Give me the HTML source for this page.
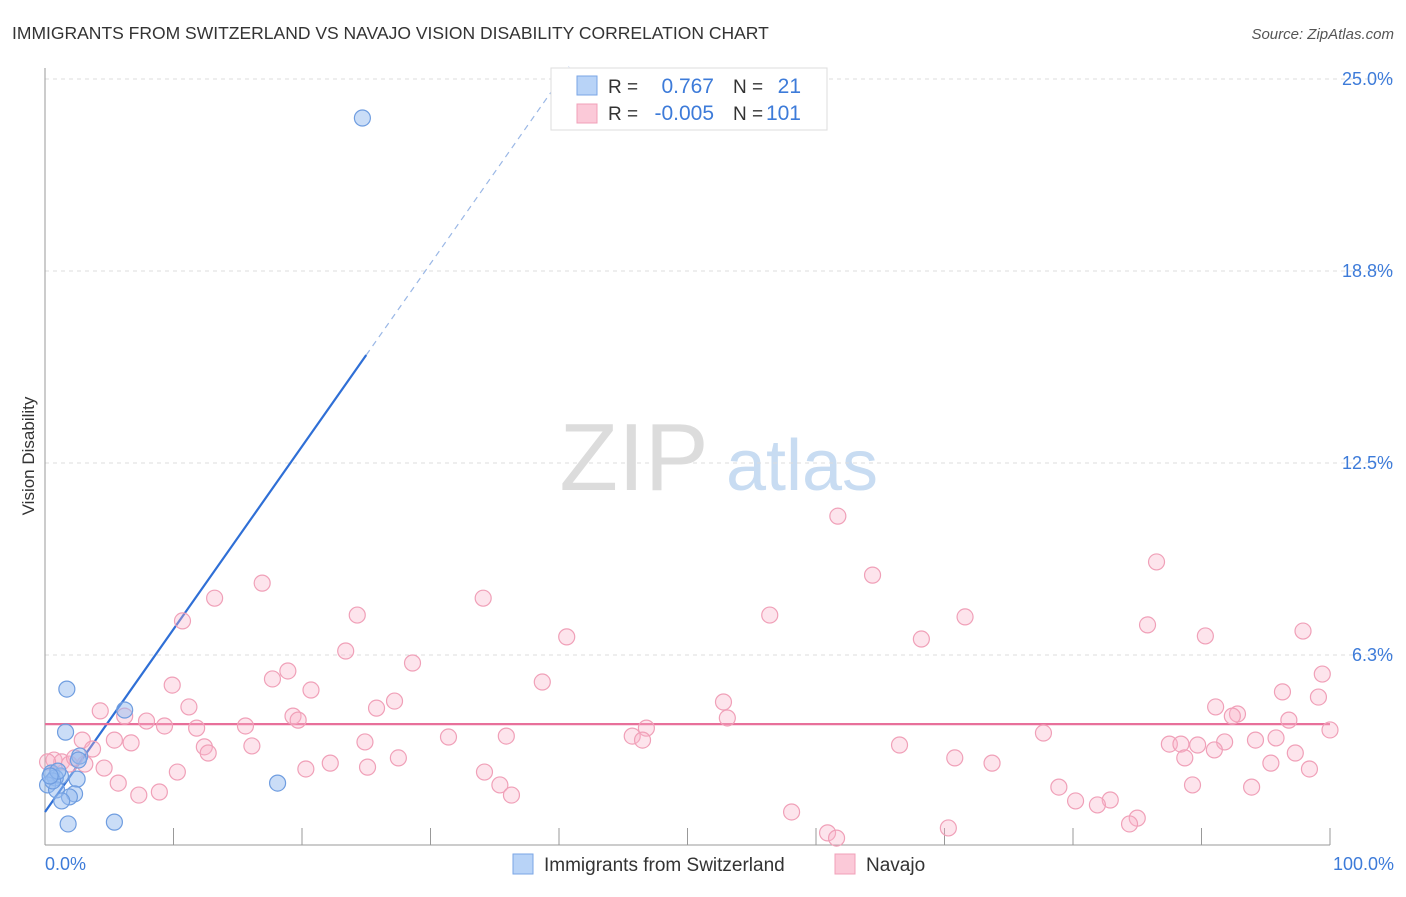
<!DOCTYPE html>
<html><head><meta charset="utf-8"><style>
body{margin:0;background:#fff;font-family:"Liberation Sans",sans-serif;}
svg text{font-family:"Liberation Sans",sans-serif;}
</style></head><body>
<svg id="chart" width="1406" height="892" xmlns="http://www.w3.org/2000/svg">
<text x="12" y="39" font-size="17.5" fill="#333">IMMIGRANTS FROM SWITZERLAND VS NAVAJO VISION DISABILITY CORRELATION CHART</text>
<text x="1394" y="39" font-size="15" fill="#555" font-style="italic" text-anchor="end">Source: ZipAtlas.com</text>
<text transform="translate(34,456) rotate(-90)" font-size="17" fill="#333" text-anchor="middle">Vision Disability</text>
<g>
<text x="634" y="490" font-size="96" fill="#dcdcdc" font-family="Liberation Serif,serif" text-anchor="middle">ZIP</text>
<text x="802" y="490" font-size="72" fill="#c8dcf2" text-anchor="middle">atlas</text>
</g>
<g id="grid"></g><g id="axes"></g><g id="lines"></g><g id="points"></g>
<g>
<rect x="551" y="68" width="276" height="62" fill="#fff" stroke="#ddd"/>
<rect x="577" y="76" width="20" height="19" fill="#b8d3f7" stroke="#7aa6e6"/>
<rect x="577" y="104" width="20" height="19" fill="#fbc9d8" stroke="#f0a0b8"/>
<text x="608" y="93" font-size="19" fill="#333">R = </text><text x="714" y="93" font-size="21" fill="#3d7bd9" text-anchor="end">0.767</text>
<text x="733" y="93" font-size="19" fill="#333">N = </text><text x="801" y="93" font-size="21" fill="#3d7bd9" text-anchor="end">21</text>
<text x="608" y="120" font-size="19" fill="#333">R = </text><text x="714" y="120" font-size="21" fill="#3d7bd9" text-anchor="end">-0.005</text>
<text x="733" y="120" font-size="19" fill="#333">N = </text><text x="801" y="120" font-size="21" fill="#3d7bd9" text-anchor="end">101</text>
</g>
<g>
<rect x="513" y="854" width="20" height="20" fill="#b8d3f7" stroke="#7aa6e6"/>
<text x="544" y="871" font-size="19" fill="#333">Immigrants from Switzerland</text>
<rect x="835" y="854" width="20" height="20" fill="#fbc9d8" stroke="#f0a0b8"/>
<text x="866" y="871" font-size="19" fill="#333">Navajo</text>
</g>
</svg>
<script>
const yTicks=[25,18.75,12.5,6.25];
const yTickLabels=["25.0%","18.8%","12.5%","6.3%"];
const xLabels=["0.0%","100.0%"];
const blueX=[24.7,1.7,6.2,1.6,2.7,0.5,1.2,0.8,2.5,0.2,0.9,2.3,1.9,1.3,1.8,5.4,18.1,0.6,1.0,0.4,2.6];
const blueY=[23.73,5.14,4.46,3.74,2.96,2.41,2.31,2.25,2.21,2.02,1.86,1.73,1.63,1.50,0.75,0.81,2.08,2.15,2.47,2.31,2.83];
const pinkX=[61.7,64.4,86.5,16.9,13.2,34.1,10.7,24.3,56.4,71.6,85.8,97.9,40.6,68.2,90.3,23.4,28.6,18.9,17.7,38.7,99.4,9.9,20.7,96.3,99.1,27.2,52.8,11.2,25.8,4.3,91.1,92.8,92.4,19.3,7.9,53.1,6.2,19.7,9.3,96.8,11.8,15.6,46.8,100,31.4,35.9,45.7,2.9,46.5,77.7,5.4,6.7,24.9,95.8,94.2,91.8,66.5,87.5,88.4,89.7,16.1,12.4,3.7,12.7,91.0,97.3,0.7,1.3,1.9,3.1,22.2,27.5,70.8,88.7,73.7,25.1,4.6,20.3,95.4,98.4,34.2,10.3,5.7,35.4,78.9,89.3,93.9,7.3,8.9,36.3,80.2,82.9,81.9,58.1,85.0,84.4,70.3,60.9,61.6,0.2,2.3];
const pinkY=[10.77,8.85,9.28,8.59,8.10,8.10,7.36,7.55,7.55,7.49,7.23,7.03,6.84,6.77,6.87,6.38,5.99,5.73,5.47,5.37,5.63,5.27,5.11,5.05,4.88,4.75,4.72,4.56,4.52,4.43,4.56,4.33,4.26,4.26,4.10,4.20,4.26,4.13,3.94,4.13,3.87,3.94,3.87,3.81,3.58,3.61,3.61,3.48,3.48,3.71,3.48,3.39,3.42,3.55,3.48,3.42,3.32,3.35,3.35,3.32,3.29,3.26,3.19,3.06,3.16,3.06,2.83,2.77,2.70,2.70,2.73,2.90,2.90,2.90,2.73,2.60,2.57,2.54,2.73,2.54,2.44,2.44,2.08,2.02,1.95,2.02,1.95,1.69,1.79,1.69,1.50,1.53,1.37,1.14,0.94,0.75,0.62,0.46,0.29,2.77,2.90];
const blueFit=[1.14,0.595]; // intercept, slope
const pinkFit=[4.0,0];
const NS="http://www.w3.org/2000/svg";
const X=v=>45+v*12.85, Y=v=>847-v*30.72;
function mk(p,tag,a){const e=document.createElementNS(NS,tag);for(const k in a)e.setAttribute(k,a[k]);p.appendChild(e);return e;}
const grid=document.getElementById('grid'),axes=document.getElementById('axes'),lines=document.getElementById('lines'),pts=document.getElementById('points');
yTicks.forEach((t,i)=>{
 const l=mk(grid,'line',{x1:45,x2:1395,y1:Y(t),y2:Y(t),stroke:'#ddd','stroke-dasharray':'4,4'});
 
 
 const tx=mk(axes,'text',{x:1393,y:Y(t)+6,'font-size':18,fill:'#3d7bd9','text-anchor':'end'});
 tx.textContent=yTickLabels[i];
 
 
});
const la=mk(axes,'line',{x1:45,x2:45,y1:68,y2:845,stroke:'#999'});


const ba=mk(axes,'line',{x1:45,x2:1330,y1:845,y2:845,stroke:'#999'});


for(let i=1;i<=10;i++){
 const t=mk(axes,'line',{x1:X(i*10),x2:X(i*10),y1:828,y2:845,stroke:'#999'});
 
 
}
const xl0=mk(axes,'text',{x:45,y:870,'font-size':18,fill:'#3d7bd9','text-anchor':'start'});xl0.textContent=xLabels[0];


const xl1=mk(axes,'text',{x:1394,y:870,'font-size':18,fill:'#3d7bd9','text-anchor':'end'});xl1.textContent=xLabels[1];


// regression lines
const bEnd=25, bTop=(25.4-blueFit[0])/blueFit[1];
const bl=mk(lines,'line',{x1:X(0),y1:Y(blueFit[0]),x2:X(bEnd),y2:Y(blueFit[0]+blueFit[1]*bEnd),stroke:'#2f6fd6','stroke-width':2.2});


const bd=mk(lines,'line',{x1:X(bEnd),y1:Y(blueFit[0]+blueFit[1]*bEnd),x2:X(bTop),y2:Y(25.4),stroke:'#9bb8e6','stroke-width':1.2,'stroke-dasharray':'6,5'});


const pl=mk(lines,'line',{x1:X(0),y1:Y(pinkFit[0]),x2:X(100),y2:Y(pinkFit[0]+pinkFit[1]*100),stroke:'#e8709a','stroke-width':2.2});


pinkX.forEach((x,i)=>{
 const c=mk(pts,'circle',{cx:X(x),cy:Y(pinkY[i]),r:8,fill:'rgba(248,178,200,0.35)',stroke:'#f0a0b8','stroke-width':1.2});
 
 
});
blueX.forEach((x,i)=>{
 const c=mk(pts,'circle',{cx:X(x),cy:Y(blueY[i]),r:8,fill:'rgba(150,188,240,0.5)',stroke:'#6f9de0','stroke-width':1.2});
 
 
});
</script>
</body></html>
